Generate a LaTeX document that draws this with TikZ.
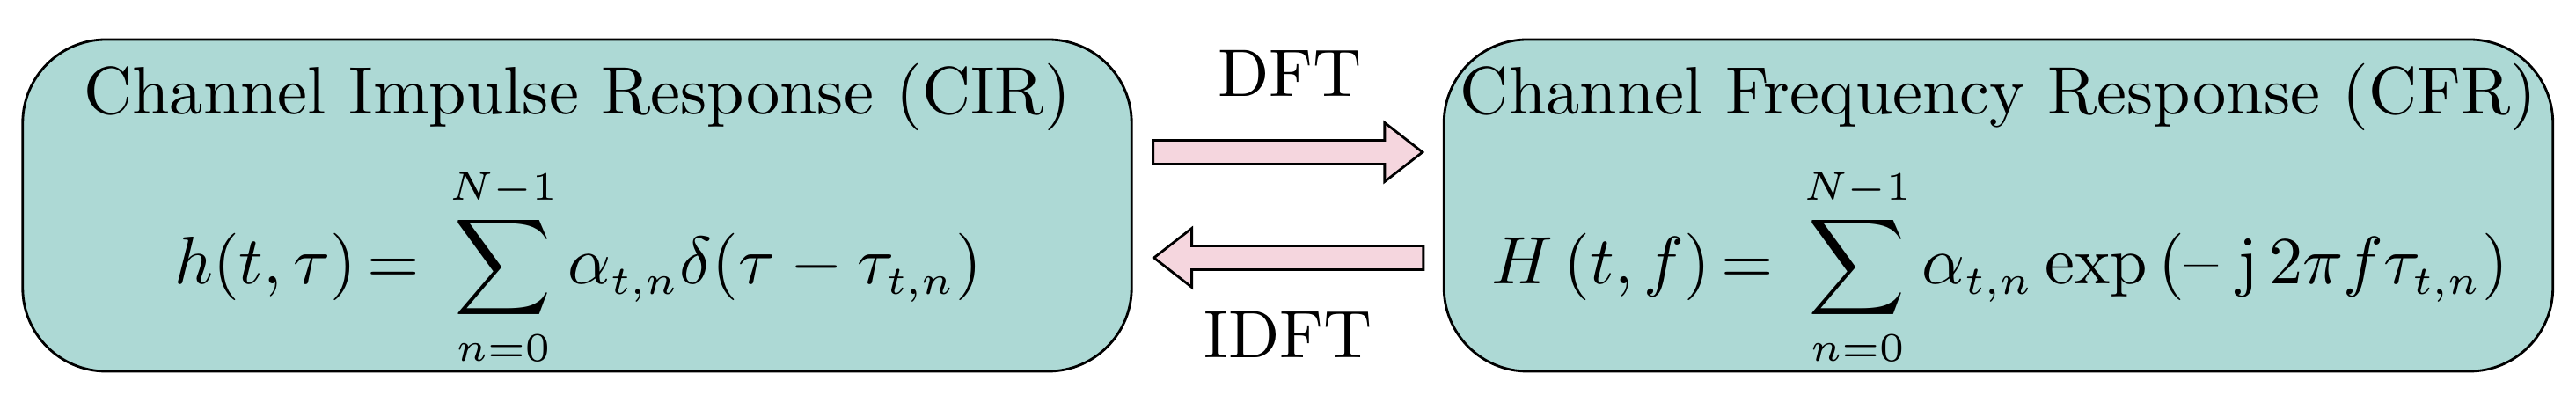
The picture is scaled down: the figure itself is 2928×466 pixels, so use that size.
\documentclass[tikz,border=0pt]{standalone}
\usepackage{amsmath}
\DeclareMathSizes{10}{10}{6}{5}
\usetikzlibrary{calc}
\definecolor{boxfill}{RGB}{173,217,213}
\definecolor{arrowfill}{RGB}{245,214,222}
\begin{document}
\begin{tikzpicture}[x=0.1309pt,y=-0.1309pt,
  respbox/.style={draw=black, line width=0.37pt, fill=boxfill, rounded corners=12.4pt,
    minimum width=165pt, minimum height=49.35pt, inner sep=0pt},
  blockarr/.style={draw=black, line width=0.37pt, fill=arrowfill, line join=miter},
  lbl/.style={anchor=base, inner sep=0pt, font=\fontsize{10pt}{12pt}\selectfont}]
\useasboundingbox (0,0) rectangle (2928,466);
% boxes
\node[respbox] (cir) at (656,233.5) {};
\node[respbox] (cfr) at (2271.5,233.5) {};
% texts
\node[lbl] (cirtitle) at (656,130) {Channel Impulse Response (CIR)};
\node[lbl] (cfrtitle) at (2271.5,130) {Channel Frequency Response (CFR)};
\node[lbl] (cireq) at (657,323) {$\displaystyle h(t,\tau)\mskip-2mu=\mskip3mu\sum_{n=0}^{N-1}\alpha_{t,n}\delta(\tau-\tau_{t,n})$};
\node[lbl] (cfreq) at (2273,323) {$\displaystyle H\,(t,f)\mskip-2mu=\mskip3mu\sum_{n=0}^{N-1}\alpha_{t,n}\exp\,(\text{--}\;\mathrm{j}\,2\pi f\tau_{t,n})$};
\node[lbl] (dft) at (1466,110) {DFT};
\node[lbl] (idft) at (1464,407) {IDFT};
% arrow anchors
\coordinate (dftS) at ($(cir.east)+(23,-60.5)$);
\coordinate (dftE) at ($(cfr.west)+(-23,-60.5)$);
\coordinate (idftS) at ($(cfr.west)+(-22,59.5)$);
\coordinate (idftE) at ($(cir.east)+(24,59.5)$);
% DFT arrow (left to right)
\draw[blockarr] ($(dftS)+(0,-13.5)$) -- ($(dftE)+(-43,-13.5)$) -- ($(dftE)+(-43,-33.5)$)
  -- (dftE) -- ($(dftE)+(-43,33.5)$) -- ($(dftE)+(-43,13.5)$) -- ($(dftS)+(0,13.5)$) -- cycle;
% IDFT arrow (right to left)
\draw[blockarr] ($(idftS)+(0,-13.5)$) -- ($(idftE)+(43,-13.5)$) -- ($(idftE)+(43,-33.5)$)
  -- (idftE) -- ($(idftE)+(43,33.5)$) -- ($(idftE)+(43,13.5)$) -- ($(idftS)+(0,13.5)$) -- cycle;
\end{tikzpicture}
\end{document}
